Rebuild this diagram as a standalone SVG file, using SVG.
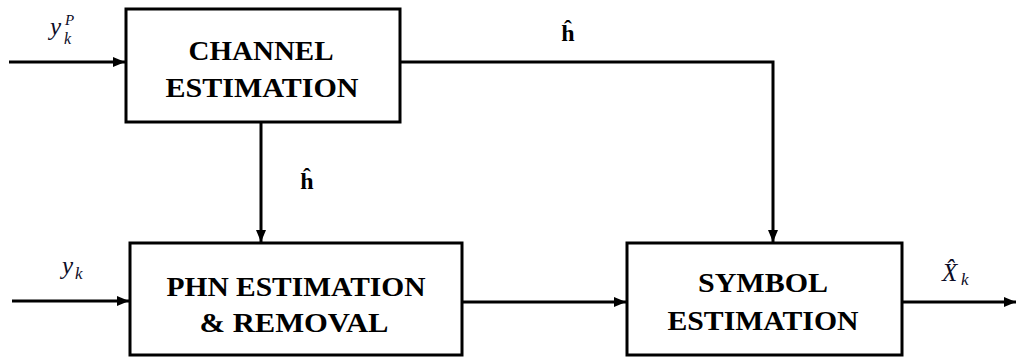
<svg xmlns="http://www.w3.org/2000/svg" width="1016" height="358" viewBox="0 0 1016 358">
  <style>
    .box { fill: #ffffff; stroke: #000000; stroke-width: 3; }
    .wire { fill: none; stroke: #000000; stroke-width: 3; }
    text { font-family: 'Liberation Serif', 'Times New Roman', 'DejaVu Serif', serif; }
    .lbl { font-weight: bold; font-size: 27px; fill: #000000; text-anchor: middle; }
    .hat { font-weight: bold; font-size: 24px; fill: #000000; text-anchor: middle; }
    .math { font-style: italic; fill: #0c0c26; }
  </style>
  <defs>
    <marker id="arrow" viewBox="0 0 12 10" refX="12" refY="5" markerWidth="12" markerHeight="10" markerUnits="userSpaceOnUse" orient="auto">
      <path d="M0,0 L12,5 L0,10 Z" fill="#000000"/>
    </marker>
  </defs>

  <!-- connectors -->
  <g id="connectors">
    <line class="wire" x1="9" y1="62" x2="125" y2="62" marker-end="url(#arrow)"/>
    <line class="wire" x1="12" y1="301" x2="129" y2="301" marker-end="url(#arrow)"/>
    <line class="wire" x1="261" y1="122" x2="261" y2="242" marker-end="url(#arrow)"/>
    <polyline class="wire" points="400,62 773,62 773,242" marker-end="url(#arrow)"/>
    <line class="wire" x1="462" y1="302" x2="626" y2="302" marker-end="url(#arrow)"/>
    <line class="wire" x1="902" y1="302" x2="1016" y2="302" marker-end="url(#arrow)"/>
  </g>

  <!-- signal labels -->
  <g id="labels">
    <text class="math" x="50" y="35" font-size="25">y</text>
    <text class="math" x="65" y="25" font-size="15">P</text>
    <text class="math" x="64" y="44" font-size="16">k</text>

    <text class="math" x="62" y="274" font-size="25">y</text>
    <text class="math" x="75" y="279" font-size="17">k</text>

    <text class="math" x="942" y="281" font-size="25">X&#x302;</text>
    <text class="math" x="961" y="285" font-size="17">k</text>

    <text class="hat" x="568" y="41">ĥ</text>
    <text class="hat" x="307" y="189">ĥ</text>
  </g>

  <!-- channel estimation block -->
  <g id="channel-estimation">
    <rect class="box" x="126" y="9" width="274" height="113"/>
    <text class="lbl" x="261" y="60" textLength="145" lengthAdjust="spacingAndGlyphs">CHANNEL</text>
    <text class="lbl" x="262" y="97" textLength="193" lengthAdjust="spacingAndGlyphs">ESTIMATION</text>
  </g>

  <!-- phase noise estimation and removal block -->
  <g id="phn-estimation">
    <rect class="box" x="130" y="243" width="332" height="112"/>
    <text class="lbl" x="296" y="296" textLength="259" lengthAdjust="spacingAndGlyphs">PHN ESTIMATION</text>
    <text class="lbl" x="294" y="332" textLength="189" lengthAdjust="spacingAndGlyphs">&amp; REMOVAL</text>
  </g>

  <!-- symbol estimation block -->
  <g id="symbol-estimation">
    <rect class="box" x="627" y="243" width="275" height="112"/>
    <text class="lbl" x="763" y="292" textLength="130" lengthAdjust="spacingAndGlyphs">SYMBOL</text>
    <text class="lbl" x="763" y="330" textLength="191" lengthAdjust="spacingAndGlyphs">ESTIMATION</text>
  </g>
</svg>
